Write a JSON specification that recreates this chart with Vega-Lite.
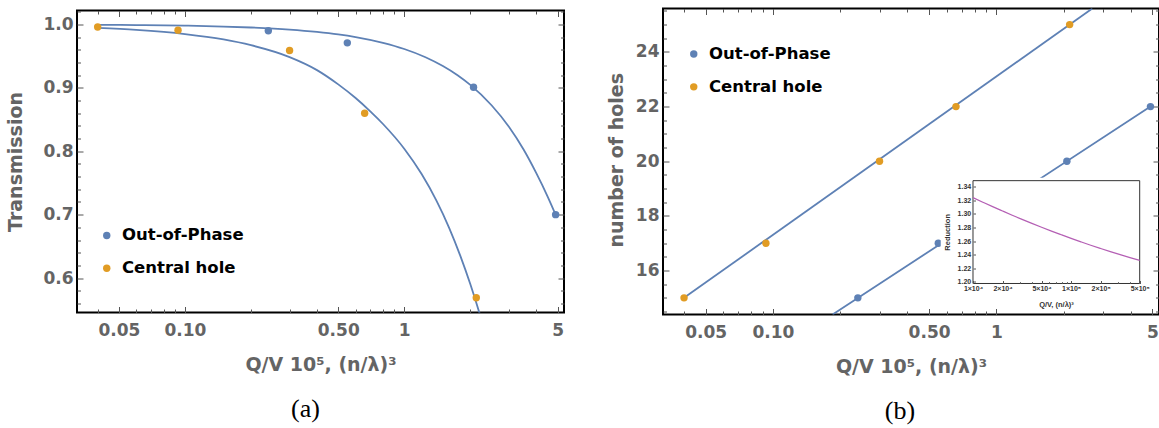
{
  "$schema": "https://vega.github.io/schema/vega-lite/v6.json",
  "background": "white",
  "padding": {"left": 5, "top": 0.5, "right": 0, "bottom": 0},
  "spacing": 99,
  "bounds": "flush",
  "center": true,
  "resolve": {"scale": {"color": "independent"}, "legend": {"color": "independent"}},
  "config": {
    "view": {"stroke": "#000000", "strokeWidth": 2},
    "axis": {
      "grid": false, "domain": false,
      "labelFont": "DejaVu Sans", "labelFontSize": 17, "labelFontWeight": "bold", "labelColor": "#646464",
      "titleFont": "DejaVu Sans", "titleFontSize": 19, "titleFontWeight": "bold", "titleColor": "#646464",
      "tickColor": "#555555", "tickWidth": 1, "labelFlush": false, "labelOverlap": false
    },
    "legend": {
      "orient": "none", "title": null, "padding": 0,
      "labelFont": "DejaVu Sans", "labelFontSize": 16.5, "labelFontWeight": "bold", "labelColor": "#000000",
      "symbolType": "circle", "symbolSize": 55, "symbolStrokeWidth": 0, "rowPadding": 15.8, "labelOffset": 7
    }
  },
  "hconcat": [
    {
      "width": 487,
      "height": 302,
      "title": {"text": "(a)", "orient": "bottom", "frame": "group", "anchor": "middle", "offset": 42, "dx": -15, "font": "Liberation Serif", "fontSize": 26, "fontWeight": "normal", "color": "#000000", "baseline": "alphabetic"},
      "resolve": {"scale": {"x": "independent", "y": "independent"}},
      "layer": [
        {
          "data": {"values": [
            {"Q": 0.04, "T": 0.9994, "curve": "oop"}, {"Q": 0.06, "T": 0.9990, "curve": "oop"}, {"Q": 0.1, "T": 0.9981, "curve": "oop"},
            {"Q": 0.15, "T": 0.9967, "curve": "oop"}, {"Q": 0.2, "T": 0.9952, "curve": "oop"}, {"Q": 0.3, "T": 0.9919, "curve": "oop"},
            {"Q": 0.4, "T": 0.9882, "curve": "oop"}, {"Q": 0.5, "T": 0.9843, "curve": "oop"}, {"Q": 0.6, "T": 0.9801, "curve": "oop"},
            {"Q": 0.8, "T": 0.9710, "curve": "oop"}, {"Q": 1.0, "T": 0.9613, "curve": "oop"}, {"Q": 1.25, "T": 0.9483, "curve": "oop"},
            {"Q": 1.5, "T": 0.9344, "curve": "oop"}, {"Q": 1.75, "T": 0.9199, "curve": "oop"}, {"Q": 2.0, "T": 0.9047, "curve": "oop"},
            {"Q": 2.5, "T": 0.8726, "curve": "oop"}, {"Q": 3.0, "T": 0.8386, "curve": "oop"}, {"Q": 3.5, "T": 0.8027, "curve": "oop"},
            {"Q": 4.0, "T": 0.7654, "curve": "oop"}, {"Q": 4.5, "T": 0.7290, "curve": "oop"}, {"Q": 4.9, "T": 0.7000, "curve": "oop"},
            {"Q": 0.04, "T": 0.9945, "curve": "ch"}, {"Q": 0.06, "T": 0.9913, "curve": "ch"}, {"Q": 0.1, "T": 0.9848, "curve": "ch"},
            {"Q": 0.15, "T": 0.9763, "curve": "ch"}, {"Q": 0.2, "T": 0.9672, "curve": "ch"}, {"Q": 0.3, "T": 0.9485, "curve": "ch"},
            {"Q": 0.4, "T": 0.9280, "curve": "ch"}, {"Q": 0.5, "T": 0.9055, "curve": "ch"}, {"Q": 0.6, "T": 0.8840, "curve": "ch"},
            {"Q": 0.7, "T": 0.8630, "curve": "ch"}, {"Q": 0.8, "T": 0.8430, "curve": "ch"}, {"Q": 1.0, "T": 0.8040, "curve": "ch"},
            {"Q": 1.2, "T": 0.7640, "curve": "ch"}, {"Q": 1.4, "T": 0.7225, "curve": "ch"}, {"Q": 1.6, "T": 0.6797, "curve": "ch"},
            {"Q": 1.8, "T": 0.6354, "curve": "ch"}, {"Q": 2.0, "T": 0.5906, "curve": "ch"}, {"Q": 2.2, "T": 0.5453, "curve": "ch"},
            {"Q": 2.3, "T": 0.5225, "curve": "ch"}
          ]},
          "mark": {"type": "line", "color": "#5E81B5", "strokeWidth": 1.8, "clip": true, "interpolate": "monotone"},
          "encoding": {
            "x": {"field": "Q", "type": "quantitative", "scale": {"type": "log", "domain": [0.0322, 5.35], "nice": false},
              "axis": {"orient": "bottom", "values": [0.04,0.05,0.06,0.07,0.08,0.09,0.1,0.2,0.3,0.4,0.5,0.6,0.7,0.8,0.9,1,2,3,4,5],
                "labelExpr": "datum.value == 0.05 ? '0.05' : datum.value == 0.1 ? '0.10' : datum.value == 0.5 ? '0.50' : datum.value == 1 ? '1' : datum.value == 5 ? '5' : ''",
                "tickSize": {"condition": {"test": "indexof([0.05,0.1,0.5,1,5], datum.value) >= 0", "value": -6}, "value": -3.5},
                "labelPadding": 16,
                "title": "Q/V 10⁵, (n/λ)³", "titleX": 243.5, "titleY": 58, "titleBaseline": "alphabetic", "titleAlign": "center"}},
            "y": {"field": "T", "type": "quantitative", "scale": {"domain": [0.5457, 1.022], "nice": false, "zero": false},
              "axis": {"orient": "left", "values": [0.56,0.58,0.6,0.62,0.64,0.66,0.68,0.7,0.72,0.74,0.76,0.78,0.8,0.82,0.84,0.86,0.88,0.9,0.92,0.94,0.96,0.98,1.0,1.02],
                "labelExpr": "round(datum.value*100) % 10 == 0 ? format(datum.value, '.1f') : ''",
                "tickSize": {"condition": {"test": "round(datum.value*100) % 10 == 0", "value": -6}, "value": -3.5},
                "labelPadding": 10,
                "title": "Transmission", "titleX": -55.3, "titleY": 151, "titleAngle": 270, "titleBaseline": "alphabetic", "titleAlign": "center"}},
            "detail": {"field": "curve", "type": "nominal"}
          }
        },
        {
          "data": {"values": [
            {"Q": 0.24, "T": 0.990, "series": "Out-of-Phase"}, {"Q": 0.55, "T": 0.971, "series": "Out-of-Phase"},
            {"Q": 2.07, "T": 0.901, "series": "Out-of-Phase"}, {"Q": 4.9, "T": 0.700, "series": "Out-of-Phase"},
            {"Q": 0.04, "T": 0.996, "series": "Central hole"}, {"Q": 0.093, "T": 0.991, "series": "Central hole"},
            {"Q": 0.30, "T": 0.959, "series": "Central hole"}, {"Q": 0.66, "T": 0.860, "series": "Central hole"},
            {"Q": 2.13, "T": 0.569, "series": "Central hole"}
          ]},
          "mark": {"type": "point", "filled": true, "size": 55, "opacity": 1},
          "encoding": {
            "x": {"field": "Q", "type": "quantitative", "scale": {"type": "log", "domain": [0.0322, 5.35], "nice": false},
              "axis": {"orient": "top", "labels": false, "title": null, "values": [0.04,0.05,0.06,0.07,0.08,0.09,0.1,0.2,0.3,0.4,0.5,0.6,0.7,0.8,0.9,1,2,3,4,5],
                "tickSize": {"condition": {"test": "indexof([0.05,0.1,0.5,1,5], datum.value) >= 0", "value": -6}, "value": -3.5}}},
            "y": {"field": "T", "type": "quantitative", "scale": {"domain": [0.5457, 1.022], "nice": false, "zero": false},
              "axis": {"orient": "right", "labels": false, "title": null, "values": [0.56,0.58,0.6,0.62,0.64,0.66,0.68,0.7,0.72,0.74,0.76,0.78,0.8,0.82,0.84,0.86,0.88,0.9,0.92,0.94,0.96,0.98,1.0,1.02],
                "tickSize": {"condition": {"test": "round(datum.value*100) % 10 == 0", "value": -6}, "value": -3.5}}},
            "color": {"field": "series", "type": "nominal",
              "scale": {"domain": ["Out-of-Phase", "Central hole"], "range": ["#5E81B5", "#E19C24"]},
              "legend": {"legendX": 21.5, "legendY": 216.7}}
          }
        }
      ]
    },
    {
      "width": 496,
      "height": 306,
      "title": {"text": "(b)", "orient": "bottom", "frame": "group", "anchor": "middle", "offset": 42, "dx": -11, "font": "Liberation Serif", "fontSize": 26, "fontWeight": "normal", "color": "#000000", "baseline": "alphabetic"},
      "resolve": {"scale": {"x": "independent", "y": "independent"}},
      "layer": [
        {
          "data": {"values": [
            {"Q": 0.04, "N": 15, "curve": "ch"}, {"Q": 2.69, "N": 25.59, "curve": "ch"},
            {"Q": 0.185, "N": 14.39, "curve": "oop"}, {"Q": 4.9, "N": 22, "curve": "oop"}
          ]},
          "mark": {"type": "line", "color": "#5E81B5", "strokeWidth": 1.8, "clip": true},
          "encoding": {
            "x": {"field": "Q", "type": "quantitative", "scale": {"type": "log", "domain": [0.0322, 5.35], "nice": false},
              "axis": {"orient": "bottom", "values": [0.04,0.05,0.06,0.07,0.08,0.09,0.1,0.2,0.3,0.4,0.5,0.6,0.7,0.8,0.9,1,2,3,4,5],
                "labelExpr": "datum.value == 0.05 ? '0.05' : datum.value == 0.1 ? '0.10' : datum.value == 0.5 ? '0.50' : datum.value == 1 ? '1' : datum.value == 5 ? '5' : ''",
                "tickSize": {"condition": {"test": "indexof([0.05,0.1,0.5,1,5], datum.value) >= 0", "value": -6}, "value": -3.5},
                "labelPadding": 16,
                "title": "Q/V 10⁵, (n/λ)³", "titleX": 248, "titleY": 58, "titleBaseline": "alphabetic", "titleAlign": "center"}},
            "y": {"field": "N", "type": "quantitative", "scale": {"domain": [14.39, 25.59], "nice": false, "zero": false},
              "axis": {"orient": "left", "values": [14.5,15,15.5,16,16.5,17,17.5,18,18.5,19,19.5,20,20.5,21,21.5,22,22.5,23,23.5,24,24.5,25,25.5],
                "labelExpr": "datum.value % 2 == 0 ? format(datum.value, 'd') : ''",
                "tickSize": {"condition": {"test": "datum.value % 2 == 0", "value": -6}, "value": -3.5},
                "labelPadding": 10,
                "title": "number of holes", "titleX": -40.6, "titleY": 151.3, "titleAngle": 270, "titleBaseline": "alphabetic", "titleAlign": "center"}},
            "detail": {"field": "curve", "type": "nominal"}
          }
        },
        {
          "data": {"values": [
            {"Q": 0.24, "N": 15, "series": "Out-of-Phase"}, {"Q": 0.55, "N": 17, "series": "Out-of-Phase"},
            {"Q": 2.07, "N": 20, "series": "Out-of-Phase"}, {"Q": 4.9, "N": 22, "series": "Out-of-Phase"},
            {"Q": 0.04, "N": 15, "series": "Central hole"}, {"Q": 0.093, "N": 17, "series": "Central hole"},
            {"Q": 0.30, "N": 20, "series": "Central hole"}, {"Q": 0.66, "N": 22, "series": "Central hole"},
            {"Q": 2.13, "N": 25, "series": "Central hole"}
          ]},
          "mark": {"type": "point", "filled": true, "size": 55, "opacity": 1},
          "encoding": {
            "x": {"field": "Q", "type": "quantitative", "scale": {"type": "log", "domain": [0.0322, 5.35], "nice": false},
              "axis": {"orient": "top", "labels": false, "title": null, "values": [0.04,0.05,0.06,0.07,0.08,0.09,0.1,0.2,0.3,0.4,0.5,0.6,0.7,0.8,0.9,1,2,3,4,5],
                "tickSize": {"condition": {"test": "indexof([0.05,0.1,0.5,1,5], datum.value) >= 0", "value": -6}, "value": -3.5}}},
            "y": {"field": "N", "type": "quantitative", "scale": {"domain": [14.39, 25.59], "nice": false, "zero": false},
              "axis": {"orient": "right", "labels": false, "title": null, "values": [14.5,15,15.5,16,16.5,17,17.5,18,18.5,19,19.5,20,20.5,21,21.5,22,22.5,23,23.5,24,24.5,25,25.5],
                "tickSize": {"condition": {"test": "datum.value % 2 == 0", "value": -6}, "value": -3.5}}},
            "color": {"field": "series", "type": "nominal",
              "scale": {"domain": ["Out-of-Phase", "Central hole"], "range": ["#5E81B5", "#E19C24"]},
              "legend": {"legendX": 22.5, "legendY": 37.3}}
          }
        },
        {
          "layer": [
            {
              "data": {"values": [{"QV": 4690, "QV2": 648000, "R": 1.1616, "R2": 1.3532}]},
              "mark": {"type": "rect", "fill": "#ffffff", "strokeWidth": 0},
              "encoding": {
                "x": {"field": "QV", "type": "quantitative", "scale": {"type": "log", "domain": [6.93, 786500], "nice": false},
                  "axis": {"orient": "bottom", "offset": -31, "zindex": 1,
                    "values": [10000,20000,30000,40000,50000,60000,70000,80000,90000,100000,200000,300000,400000,500000],
                    "labelExpr": "datum.value == 10000 ? '1×10⁴' : datum.value == 20000 ? '2×10⁴' : datum.value == 50000 ? '5×10⁴' : datum.value == 100000 ? '1×10⁵' : datum.value == 200000 ? '2×10⁵' : datum.value == 500000 ? '5×10⁵' : ''",
                    "labelFont": "Liberation Sans", "labelFontSize": 7, "labelFontWeight": "bold", "labelColor": "#333333",
                    "tickSize": {"condition": {"test": "indexof([10000,20000,50000,100000,200000,500000], datum.value) >= 0", "value": -3}, "value": -1.8},
                    "labelPadding": 4,
                    "title": "Q/V, (n/λ)³", "titleFont": "Liberation Sans", "titleFontSize": 7.5, "titleFontWeight": "bold", "titleColor": "#333333",
                    "titleX": 393, "titleY": 22.5, "titleBaseline": "alphabetic", "titleAlign": "center"}},
                "x2": {"field": "QV2"},
                "y": {"field": "R", "type": "quantitative", "scale": {"domain": [1.1518, 1.6027], "nice": false, "zero": false},
                  "axis": {"orient": "left", "offset": -310, "zindex": 1,
                    "values": [1.2,1.22,1.24,1.26,1.28,1.3,1.32,1.34], "format": ".2f",
                    "labelFont": "Liberation Sans", "labelFontSize": 7, "labelFontWeight": "bold", "labelColor": "#333333",
                    "tickSize": -2.5, "labelPadding": 4.8,
                    "title": "Reduction", "titleFont": "Liberation Sans", "titleFontSize": 7.5, "titleFontWeight": "bold", "titleColor": "#333333",
                    "titleX": -23.3, "titleY": 223.3, "titleAngle": 270, "titleBaseline": "alphabetic", "titleAlign": "center"}},
                "y2": {"field": "R2"}
              }
            },
            {
              "data": {"values": [{"QV": 10000, "QV2": 500000, "R": 1.1975, "R2": 1.349}]},
              "mark": {"type": "rect", "fillOpacity": 0, "stroke": "#333333", "strokeWidth": 1},
              "encoding": {
                "x": {"field": "QV", "type": "quantitative"},
                "x2": {"field": "QV2"},
                "y": {"field": "R", "type": "quantitative"},
                "y2": {"field": "R2"}
              }
            },
            {
              "data": {"values": [
                {"QV": 10000, "R": 1.3240}, {"QV": 12589, "R": 1.3173}, {"QV": 15849, "R": 1.3107}, {"QV": 20000, "R": 1.3043},
                {"QV": 25119, "R": 1.2981}, {"QV": 31623, "R": 1.2920}, {"QV": 39811, "R": 1.2861}, {"QV": 50000, "R": 1.2804},
                {"QV": 63096, "R": 1.2747}, {"QV": 79433, "R": 1.2693}, {"QV": 100000, "R": 1.2640}, {"QV": 125893, "R": 1.2589},
                {"QV": 158489, "R": 1.2539}, {"QV": 200000, "R": 1.2491}, {"QV": 251189, "R": 1.2445}, {"QV": 316228, "R": 1.2400},
                {"QV": 398107, "R": 1.2357}, {"QV": 500000, "R": 1.2316}
              ]},
              "mark": {"type": "line", "color": "#B45FB4", "strokeWidth": 1.2, "interpolate": "monotone"},
              "encoding": {
                "x": {"field": "QV", "type": "quantitative"},
                "y": {"field": "R", "type": "quantitative"}
              }
            }
          ]
        }
      ]
    }
  ]
}
